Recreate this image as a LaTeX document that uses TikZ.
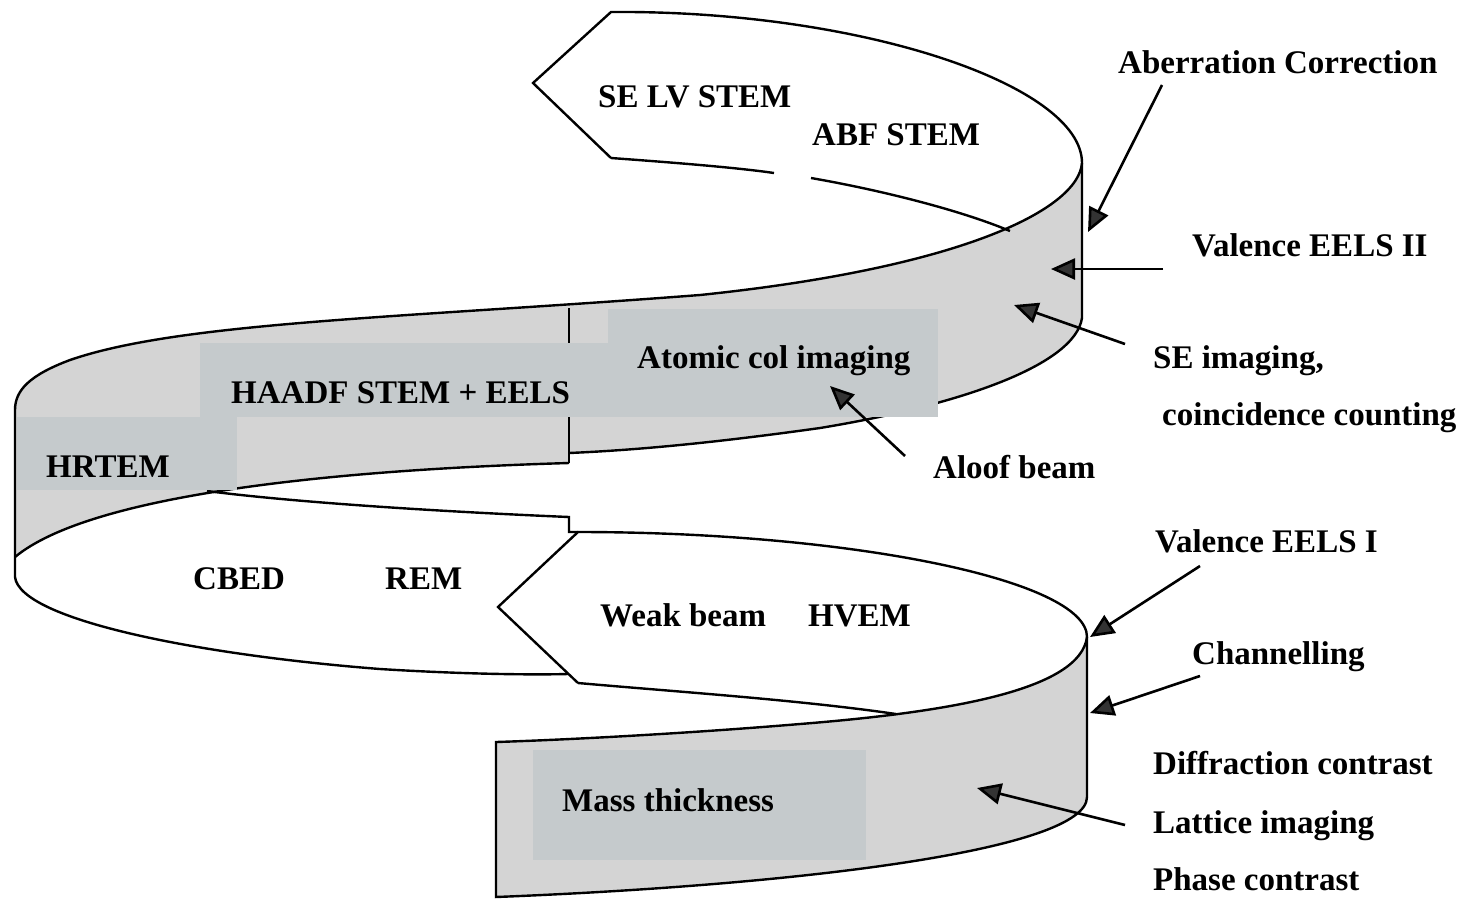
\documentclass[tikz,border=0pt]{standalone}
\usepackage{fontspec}
\setmainfont{Liberation Serif}
\usetikzlibrary{arrows.meta}
\definecolor{bandc}{HTML}{D4D4D4}
\definecolor{boxc}{HTML}{C5CACC}
\definecolor{headc}{HTML}{333333}
\tikzset{
  outline/.style={line width=2.4pt, line join=miter},
  lbl/.style={anchor=base west, inner sep=0pt, font=\fontsize{33}{40}\selectfont\bfseries},
  ptr/.style={line width=2.6pt, -{Triangle[length=24pt,width=21pt,fill=headc]}},
}
\begin{document}
\begin{tikzpicture}[x=1pt,y=-1pt]
\useasboundingbox (0,0) rectangle (1467,898);

% ---- band fills ----
\fill[bandc] (1082,163) .. controls (1078,210) and (960,268) .. (700,295)
  .. controls (400,318) and (180,322) .. (70,360)
  .. controls (30,375) and (15,390) .. (15,410) -- (15,557)
  .. controls (90,495) and (330,470) .. (569,463) -- (569,453)
  .. controls (640,450) and (720,442) .. (820,428)
  .. controls (960,405) and (1075,365) .. (1082,318) -- cycle;
\fill[bandc] (1087,637) .. controls (1080,690) and (950,712) .. (800,724)
  .. controls (680,734) and (560,740) .. (496,742) -- (496,897)
  .. controls (800,885) and (1087,850) .. (1087,797) -- cycle;

% ---- outlines ----
% top loop
\draw[outline] (611,158) -- (533,83) -- (611,12)
  .. controls (860,10) and (1082,85) .. (1082,163) -- (1082,318);
\draw[outline] (611,158) .. controls (680,163) and (740,168) .. (774,173);
\draw[outline] (811,178) .. controls (880,190) and (960,210) .. (1010,231);
% middle band
\draw[outline] (1082,163) .. controls (1078,210) and (960,268) .. (700,295)
  .. controls (400,318) and (180,322) .. (70,360)
  .. controls (30,375) and (15,390) .. (15,410) -- (15,577);
\draw[outline] (1082,318) .. controls (1075,365) and (960,405) .. (820,428)
  .. controls (720,442) and (640,450) .. (569,453);
\draw[outline] (569,308) -- (569,463);
\draw[outline] (569,463) .. controls (330,470) and (90,495) .. (15,557);
% lower loop
\draw[outline] (207,491) .. controls (300,503) and (450,512) .. (569,517) -- (569,532) -- (578,532);
\draw[outline] (15,577) .. controls (20,620) and (200,655) .. (380,669)
  .. controls (460,674) and (530,675) .. (568,674);
\draw[outline] (578,683) -- (498,607) -- (578,532)
  .. controls (850,532) and (1087,580) .. (1087,637) -- (1087,797);
\draw[outline] (578,683) .. controls (680,692) and (800,700) .. (896,714);
% bottom band
\draw[outline] (1087,637) .. controls (1080,690) and (950,712) .. (800,724)
  .. controls (680,734) and (560,740) .. (496,742) -- (496,897)
  .. controls (800,885) and (1087,850) .. (1087,797);

% ---- shaded boxes ----
\fill[boxc] (608,309) rectangle (938,417);
\fill[boxc] (200,343) rectangle (608,417);
\fill[boxc] (16.5,417) rectangle (237,490);
\fill[boxc] (533,750) rectangle (866,860);

% ---- labels ----
\node[lbl] (selv) at (598,107) {SE LV STEM};
\node[lbl] (abf) at (812,145) {ABF STEM};
\node[lbl] (aber) at (1118,73) {Aberration Correction};
\node[lbl] (vel2) at (1192,256) {Valence EELS II};
\node[lbl] (seim) at (1153,368) {SE imaging,};
\node[lbl] (coin) at (1162,425) {coincidence counting};
\node[lbl] (atom) at (637,368) {Atomic col imaging};
\node[lbl] (haadf) at (231,403) {HAADF STEM + EELS};
\node[lbl] (hrtem) at (46,477) {HRTEM};
\node[lbl] (aloof) at (933,478) {Aloof beam};
\node[lbl] (cbed) at (193,589) {CBED};
\node[lbl] (rem) at (385,589) {REM};
\node[lbl] (weak) at (600,626) {Weak beam};
\node[lbl] (hvem) at (808,626) {HVEM};
\node[lbl] (vel1) at (1155,552) {Valence EELS I};
\node[lbl] (chan) at (1192,664) {Channelling};
\node[lbl] (diff) at (1153,774) {Diffraction contrast};
\node[lbl] (latt) at (1153,833) {Lattice imaging};
\node[lbl] (phase) at (1153,890) {Phase contrast};
\node[lbl] (mass) at (562,811) {Mass thickness};

% ---- arrows ----
\coordinate (acS) at (1162,85);   \coordinate (acT) at (1088,232);
\coordinate (v2S) at (1163,269);  \coordinate (v2T) at (1051,269);
\coordinate (seS) at (1125,344);  \coordinate (seT) at (1014,305);
\coordinate (alS) at (905,456);   \coordinate (alT) at (830,386);
\coordinate (v1S) at (1200,566);  \coordinate (v1T) at (1090,637);
\coordinate (chS) at (1200,676);  \coordinate (chT) at (1090,713);
\coordinate (laS) at (1125,825);  \coordinate (laT) at (977,788);
\draw[ptr] (acS) -- (acT);
\draw[ptr] (v2S) -- (v2T);
\draw[ptr] (seS) -- (seT);
\draw[ptr] (alS) -- (alT);
\draw[ptr] (v1S) -- (v1T);
\draw[ptr] (chS) -- (chT);
\draw[ptr] (laS) -- (laT);
\end{tikzpicture}
\end{document}
